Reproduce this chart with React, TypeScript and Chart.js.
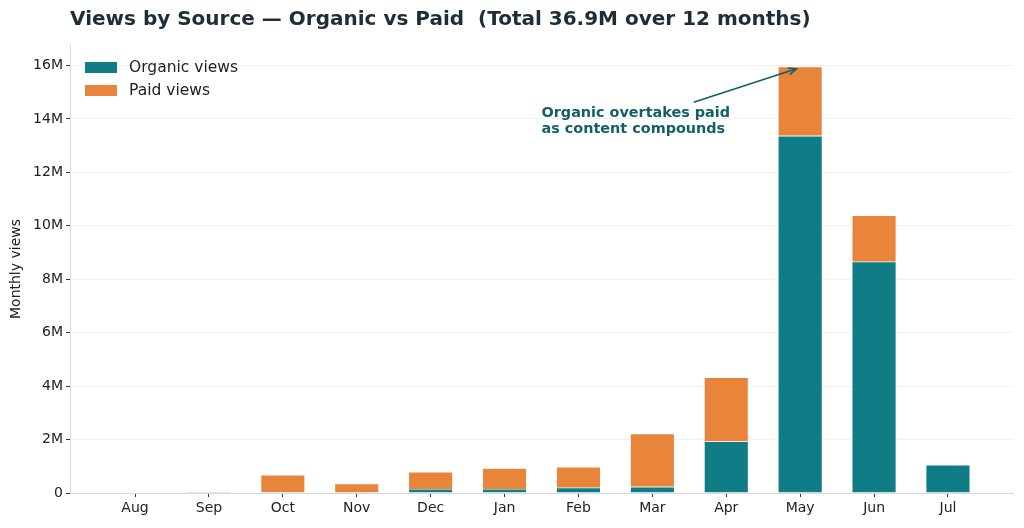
import { useEffect, useRef } from "react";
import { Chart, registerables } from "chart.js";

Chart.register(...registerables);

// monthly views, in millions
const months = ["Aug", "Sep", "Oct", "Nov", "Dec", "Jan", "Feb", "Mar", "Apr", "May", "Jun", "Jul"];
const organicViews = [0, 0, 0.04, 0, 0.15, 0.15, 0.2, 0.23, 1.93, 13.37, 8.66, 1.05];
const paidViews = [0, 0.05, 0.64, 0.35, 0.64, 0.78, 0.78, 1.99, 2.4, 2.59, 1.73, 0];
const yTicks = [0, 2, 4, 6, 8, 10, 12, 14, 16];

const titleText = "Views by Source \u2014 Organic vs Paid  (Total 36.9M over 12 months)";
const noteLines = ["Organic overtakes paid", "as content compounds"];
// note anchored in data units: text start, arrow tail, arrow tip
const noteText = { x: 5.5, y: 14.22 };
const noteTail = { x: 7.56, y: 14.63 };
const noteTip = { x: 8.95, y: 15.88 };

const TEAL = "#0f7c86";
const ORANGE = "#e8853b";
const NOTE = "#135f66";
const FONT = "'DejaVu Sans', sans-serif";

const overlay = {
  id: "overlay",
  afterDraw(chart) {
    const { ctx, chartArea, scales } = chart;
    const x = scales.x;
    const y = scales.y;
    ctx.save();

    // title
    ctx.fillStyle = "#1f2e35";
    ctx.font = `bold 20px ${FONT}`;
    ctx.textBaseline = "middle";
    ctx.textAlign = "left";
    ctx.fillText(titleText, chartArea.left, 20);

    // legend inside the plot
    ctx.font = `15.5px ${FONT}`;
    const items = [
      { label: "Organic views", color: TEAL },
      { label: "Paid views", color: ORANGE },
    ];
    items.forEach((it, i) => {
      const cy = 67 + i * 23;
      ctx.fillStyle = it.color;
      ctx.fillRect(chartArea.left + 15, cy - 5, 32, 11);
      ctx.fillStyle = "#222";
      ctx.fillText(it.label, chartArea.left + 59, cy + 1);
    });

    // annotation
    ctx.fillStyle = NOTE;
    ctx.font = `bold 14.4px ${FONT}`;
    const tx = x.getPixelForValue(noteText.x);
    const ty = y.getPixelForValue(noteText.y * 1e6);
    noteLines.forEach((line, i) => ctx.fillText(line, tx, ty + i * 16.5));

    const ax = x.getPixelForValue(noteTail.x);
    const ay = y.getPixelForValue(noteTail.y * 1e6);
    const bx = x.getPixelForValue(noteTip.x);
    const by = y.getPixelForValue(noteTip.y * 1e6);
    ctx.strokeStyle = NOTE;
    ctx.lineWidth = 1.6;
    ctx.beginPath();
    ctx.moveTo(ax, ay);
    ctx.lineTo(bx, by);
    ctx.stroke();
    const ang = Math.atan2(by - ay, bx - ax);
    ctx.beginPath();
    ctx.moveTo(bx - 9 * Math.cos(ang - 0.4), by - 9 * Math.sin(ang - 0.4));
    ctx.lineTo(bx, by);
    ctx.lineTo(bx - 9 * Math.cos(ang + 0.4), by - 9 * Math.sin(ang + 0.4));
    ctx.stroke();

    ctx.restore();
  },
};

export default function App() {
  const canvasRef = useRef<HTMLCanvasElement>(null);

  useEffect(() => {
    if (!canvasRef.current) return;

    const chart = new Chart(canvasRef.current, {
      type: "bar",
      data: {
        datasets: [
          {
            label: "Organic views",
            data: organicViews.map((v, i) => ({ x: i, y: v * 1e6 })),
            backgroundColor: TEAL,
            borderColor: "#ffffff",
            borderWidth: 0.6,
          },
          {
            label: "Paid views",
            data: paidViews.map((v, i) => ({ x: i, y: v * 1e6 })),
            backgroundColor: ORANGE,
            borderColor: "#ffffff",
            borderWidth: 0.6,
          },
        ],
      },
      options: {
        animation: false,
        responsive: true,
        maintainAspectRatio: false,
        categoryPercentage: 1,
        barPercentage: 0.6,
        layout: { padding: { top: 45, right: 11, left: 0, bottom: 0 } },
        plugins: {
          legend: { display: false },
          tooltip: { enabled: false },
        },
        scales: {
          x: {
            type: "linear",
            stacked: true,
            offset: false,
            min: -0.88,
            max: 11.88,
            afterBuildTicks: (s) => {
              s.ticks = months.map((_, i) => ({ value: i }));
            },
            afterFit: (s) => {
              s.height = 35;
            },
            ticks: {
              callback: (v) => months[v],
              color: "#222",
              font: { family: FONT, size: 14 },
              padding: 3,
              maxRotation: 0,
            },
            grid: {
              offset: false,
              drawOnChartArea: false,
              drawTicks: true,
              tickLength: 4,
              tickColor: "#333",
            },
            border: { color: "#d3dae0", width: 1 },
          },
          y: {
            stacked: true,
            min: 0,
            max: 16.77e6,
            afterBuildTicks: (s) => {
              s.ticks = yTicks.map((v) => ({ value: v * 1e6 }));
            },
            afterFit: (s) => {
              s.width = 70;
            },
            ticks: {
              callback: (v) => (v === 0 ? "0" : `${v / 1e6}M`),
              color: "#222",
              font: { family: FONT, size: 14 },
              padding: 3,
            },
            grid: {
              color: "#eef2f4",
              tickColor: "#333",
              tickLength: 4,
            },
            border: { color: "#d3dae0", width: 1 },
            title: {
              display: true,
              text: "Monthly views",
              color: "#222",
              font: { family: FONT, size: 14 },
              padding: { top: 8, bottom: 0 },
            },
          },
        },
      },
      plugins: [overlay],
    });

    return () => chart.destroy();
  }, []);

  return (
    <div style={{ position: "absolute", left: 0, top: 0, width: 1024, height: 528, background: "#fff" }}>
      <canvas ref={canvasRef} />
    </div>
  );
}
